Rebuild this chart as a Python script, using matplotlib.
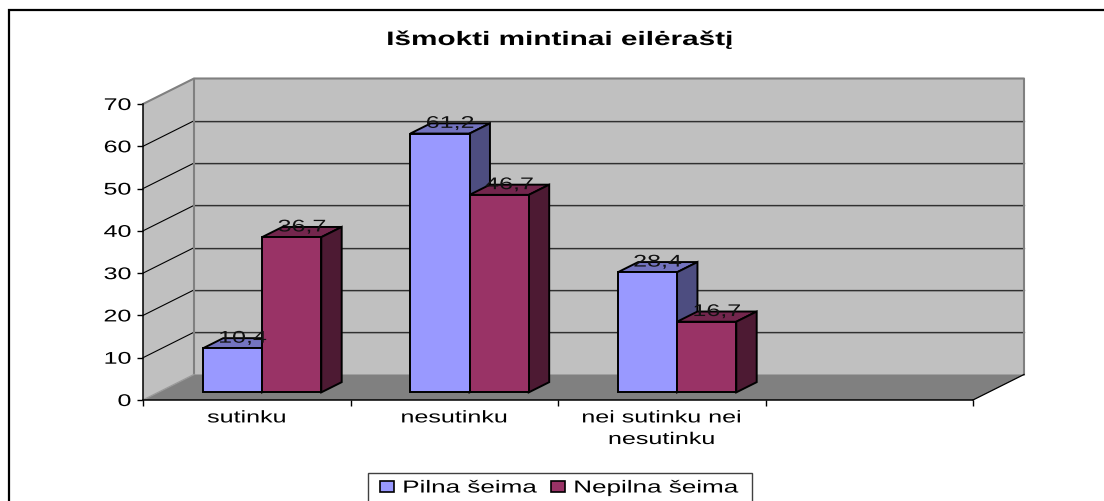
import matplotlib
matplotlib.use("Agg")
import matplotlib.pyplot as plt
import matplotlib.patheffects as pe
from matplotlib.lines import Line2D
from matplotlib.patches import Patch, Polygon, Rectangle
from matplotlib.transforms import Affine2D

plt.rcParams['font.family'] = ['Liberation Sans', 'DejaVu Sans']

title = "Išmokti mintinai eilėraštį"
categories = ["sutinku", "nesutinku", "nei sutinku nei\nnesutinku"]
series_names = ["Pilna šeima", "Nepilna šeima"]
pilna = [10.4, 61.2, 28.4]
nepilna = [36.7, 46.7, 16.7]
value_labels = [["10,4", "61,2", "28,4"], ["36,7", "46,7", "16,7"]]
yticks = [0, 10, 20, 30, 40, 50, 60, 70]

W, H = 1104, 501
# front plane of the box, in pixels
LEFT, RIGHT, BOTTOM, TOP = 143, 973, 400, 104
N_SLOTS = 4
# how far the back wall is shifted from the front plane, in axis units
DX = 51 / ((RIGHT - LEFT) / N_SLOTS)
DY = 25.5 / ((BOTTOM - TOP) / 70)
BAR_W = 0.2855
GAP = 0.2145
D0, D1 = 0.3, 0.7

front_colors = ["#9999FF", "#993366"]
top_colors = ["#7373BF", "#73264D"]
side_colors = ["#4D4D80", "#4D1A33"]


class Stretch(pe.AbstractPathEffect):
    # the reference was resized wider, so the glyphs are widened too
    def __init__(self, factor, anchor="center"):
        super().__init__()
        self.factor = factor
        self.anchor = anchor

    def draw_path(self, renderer, gc, tpath, affine, rgbFace=None):
        ext = tpath.transformed(affine).get_extents()
        x0 = ext.x1 if self.anchor == "right" else (ext.x0 if self.anchor == "left" else (ext.x0 + ext.x1) / 2)
        wide = affine + Affine2D().translate(-x0, 0).scale(self.factor, 1).translate(x0, 0)
        renderer.draw_path(gc, tpath, wide, rgbFace)


def proj(x, y, d):
    return (x + d * DX, y + d * DY)


def poly(ax, pts, face, edge="none", lw=0.0, z=1):
    ax.add_patch(Polygon(pts, closed=True, facecolor=face, edgecolor=edge, linewidth=lw,
                         zorder=z, clip_on=False, joinstyle="miter"))


fig = plt.figure(figsize=(W / 100, H / 100), dpi=100, facecolor="white")
ax = fig.add_axes([LEFT / W, 1 - BOTTOM / H, (RIGHT - LEFT) / W, (BOTTOM - TOP) / H])
ax.set_xlim(0, N_SLOTS)
ax.set_ylim(0, 70)
ax.patch.set_visible(False)
for s in ["top", "right"]:
    ax.spines[s].set_visible(False)
ax.spines["left"].set_linewidth(1.1)
ax.spines["bottom"].set_linewidth(1.1)
ax.spines["left"].set_zorder(8)
ax.spines["bottom"].set_zorder(8)

# walls and floor
poly(ax, [proj(0, 0, 0), proj(0, 70, 0), proj(0, 70, 1), proj(0, 0, 1)], "#C0C0C0", z=1)
poly(ax, [proj(0, 0, 1), proj(0, 70, 1), proj(N_SLOTS, 70, 1), proj(N_SLOTS, 0, 1)], "#C0C0C0", z=1)
poly(ax, [proj(0, 0, 0), proj(N_SLOTS, 0, 0), proj(N_SLOTS, 0, 1), proj(0, 0, 1)], "#808080", z=1)

for v in yticks[1:-1]:
    a, b, c = proj(0, v, 0), proj(0, v, 1), proj(N_SLOTS, v, 1)
    ax.plot([a[0], b[0]], [a[1], b[1]], color="black", lw=0.8, zorder=2, clip_on=False)
    ax.plot([b[0], c[0]], [b[1], c[1]], color="#303030", lw=0.9, zorder=2, clip_on=False)
    ax.plot([b[0], c[0]], [b[1] - 0.22, c[1] - 0.22], color="#8C8C8C", lw=0.7, zorder=2, clip_on=False)

# gray box edges
a, b, c, d = proj(0, 70, 0), proj(0, 70, 1), proj(N_SLOTS, 70, 1), proj(N_SLOTS, 0, 1)
e = proj(0, 0, 1)
ax.plot([a[0], b[0], c[0], d[0]], [a[1], b[1], c[1], d[1]], color="#808080", lw=1.5, zorder=3, clip_on=False)
ax.plot([b[0], e[0]], [b[1], e[1]], color="#808080", lw=1.5, zorder=3, clip_on=False)
f = proj(0, 0, 0)
ax.plot([f[0], e[0]], [f[1], e[1]], color="#9A9A9A", lw=1.0, zorder=3, clip_on=False)
f = proj(N_SLOTS, 0, 0)
ax.plot([f[0], d[0]], [f[1], d[1]], color="black", lw=0.9, zorder=3, clip_on=False)

# bars
z = 4.0
labels_at = []
for i in range(len(categories)):
    for k, vals in enumerate([pilna, nepilna]):
        v = vals[i]
        x0 = i + GAP + k * BAR_W
        x1 = x0 + BAR_W
        edge = dict(edge="black", lw=1.4)
        poly(ax, [proj(x0, v, D0), proj(x0, v, D1), proj(x1, v, D1), proj(x1, v, D0)], top_colors[k], z=z, **edge)
        poly(ax, [proj(x1, 0, D0), proj(x1, v, D0), proj(x1, v, D1), proj(x1, 0, D1)], side_colors[k], z=z, **edge)
        poly(ax, [proj(x0, 0, D0), proj(x0, v, D0), proj(x1, v, D0), proj(x1, 0, D0)], front_colors[k], z=z, **edge)
        z += 0.01
        # label sits mid depth in x but on the back edge of the bar top in y
        labels_at.append((proj((x0 + x1) / 2, v, 0.5)[0], proj(x0, v, D1)[1], value_labels[k][i]))

LABEL_PT = 12.2
STRETCH = 1.48
for x, y, s in labels_at:
    ax.text(x, y, s, ha="center", va="center", fontsize=LABEL_PT, color="#111111", zorder=7,
            path_effects=[Stretch(STRETCH)])

# ticks and labels
ax.set_yticks(yticks)
ax.set_xticks(range(N_SLOTS + 1))
ax.set_xticklabels([])
ax.set_xticks([i + 0.5 for i in range(len(categories))], categories, minor=True)
ax.tick_params(axis="y", length=4.3, width=1.0, pad=4.3, labelsize=LABEL_PT)
ax.tick_params(axis="x", which="major", length=4.3, width=1.0)
ax.tick_params(axis="x", which="minor", length=0, pad=7.5, labelsize=LABEL_PT)
for t in ax.get_yticklabels():
    t.set_path_effects([Stretch(STRETCH, "right")])
for t in ax.get_xticklabels(minor=True):
    t.set_path_effects([Stretch(STRETCH)])
    t.set_linespacing(1.55)

fig.text(560 / W, 1 - 45 / H, title, ha="center", va="baseline", fontsize=14, fontweight="bold",
         color="black", path_effects=[Stretch(1.53)])

# legend, box is open at the bottom because the picture cuts it off
fig.add_artist(Rectangle((368 / W, -0.02), (752 - 368) / W, 1.02 - 473 / H, facecolor="white",
                         edgecolor="#404040", linewidth=1.0, transform=fig.transFigure, zorder=5))
handles = [Patch(facecolor=front_colors[k], edgecolor="black", linewidth=1.2) for k in range(2)]
leg = fig.legend(handles, series_names, loc="center left", bbox_to_anchor=(380 / W, 1 - 488 / H), ncol=2,
                 frameon=False, fontsize=12.5, handlelength=0.8, handleheight=0.55, handletextpad=0.52,
                 columnspacing=3.34, borderpad=0, borderaxespad=0)
leg.set_zorder(6)
for t in leg.get_texts():
    t.set_path_effects([Stretch(1.5, "left")])

# outer frame of the chart, only left and top are inside the picture
fig.add_artist(Line2D([8.5 / W, 8.5 / W, 1], [0, 1 - 9.5 / H, 1 - 9.5 / H], color="black", lw=1.6,
                      transform=fig.transFigure, solid_joinstyle="miter"))

plt.savefig("out.png", dpi=100)
